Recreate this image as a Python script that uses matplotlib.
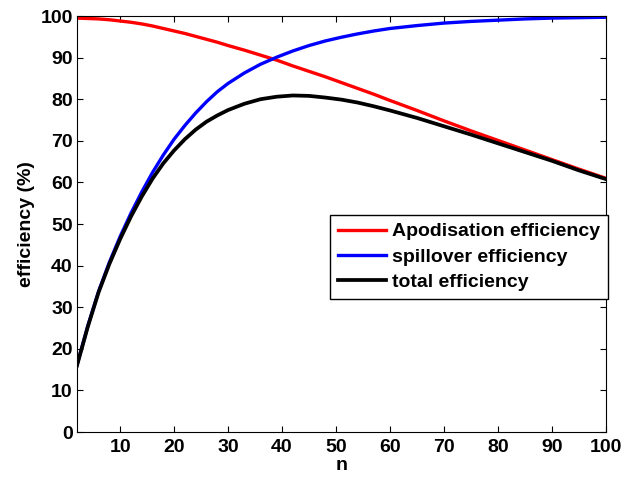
import matplotlib
matplotlib.use("Agg")
import matplotlib.pyplot as plt

# values
n = [2, 4, 6, 8, 10, 12, 14, 16, 18, 20, 22, 24, 26, 28, 30, 33, 36, 39, 42, 45,
     48, 51, 54, 57, 60, 65, 70, 75, 80, 85, 90, 95, 100]
apodisation = [99.5, 99.4, 99.3, 99.1, 98.8, 98.5, 98.1, 97.6, 97.0, 96.4, 95.8, 95.1,
               94.4, 93.7, 92.9, 91.8, 90.6, 89.4, 88.0, 86.7, 85.4, 84.0, 82.6, 81.2,
               79.7, 77.3, 74.8, 72.4, 70.1, 67.8, 65.5, 63.2, 61.0]
spillover = [16.1, 25.5, 33.8, 40.8, 47.0, 52.6, 57.7, 62.4, 66.6, 70.4, 73.7, 76.7,
             79.4, 81.8, 83.8, 86.3, 88.4, 90.1, 91.6, 92.9, 94.0, 94.9, 95.7, 96.4,
             97.0, 97.7, 98.3, 98.7, 99.0, 99.3, 99.5, 99.6, 99.7]
total = [16.0, 25.3, 33.6, 40.4, 46.4, 51.8, 56.6, 60.9, 64.6, 67.7, 70.4, 72.7,
         74.6, 76.1, 77.4, 78.9, 80.0, 80.6, 80.9, 80.8, 80.4, 79.9, 79.2, 78.3,
         77.3, 75.5, 73.5, 71.5, 69.4, 67.3, 65.2, 62.9, 60.8]

plt.rcParams["font.family"] = ["Liberation Sans", "DejaVu Sans"]
plt.rcParams["font.weight"] = "bold"

fig = plt.figure(figsize=(6.22, 4.78), dpi=100)
ax = fig.add_axes([0.1238, 0.0962, 0.8502, 0.8703])

ax.plot(n, apodisation, color="#ff0000", lw=2.4, label="Apodisation efficiency")
ax.plot(n, spillover, color="#0000ff", lw=2.4, label="spillover efficiency")
ax.plot(n, total, color="black", lw=2.7, label="total efficiency")

ax.set_xlim(2, 100)
ax.set_ylim(0, 100)
ax.set_xticks(range(10, 101, 10))
ax.set_yticks(range(0, 101, 10))
ax.tick_params(direction="in", top=True, right=True, length=4, width=0.8,
               labelsize=14)
ax.tick_params(axis="x", pad=5)
ax.tick_params(axis="y", pad=3)
for lab in ax.get_xticklabels() + ax.get_yticklabels():
    lab.set_fontweight("bold")
ax.set_xlabel("n", fontsize=14, fontweight="bold", labelpad=1)
ax.set_ylabel("efficiency (%)", fontsize=14, fontweight="bold", labelpad=4)

leg = ax.legend(loc="upper left", bbox_to_anchor=(0.478, 0.5216), borderaxespad=0,
                fancybox=False, framealpha=1, edgecolor="black", handlelength=2.5,
                labelspacing=0.4, handletextpad=0.3, borderpad=0.4,
                prop={"size": 14, "weight": "bold"})
leg.get_frame().set_linewidth(1.0)

fig.savefig("out.png", dpi=100)
